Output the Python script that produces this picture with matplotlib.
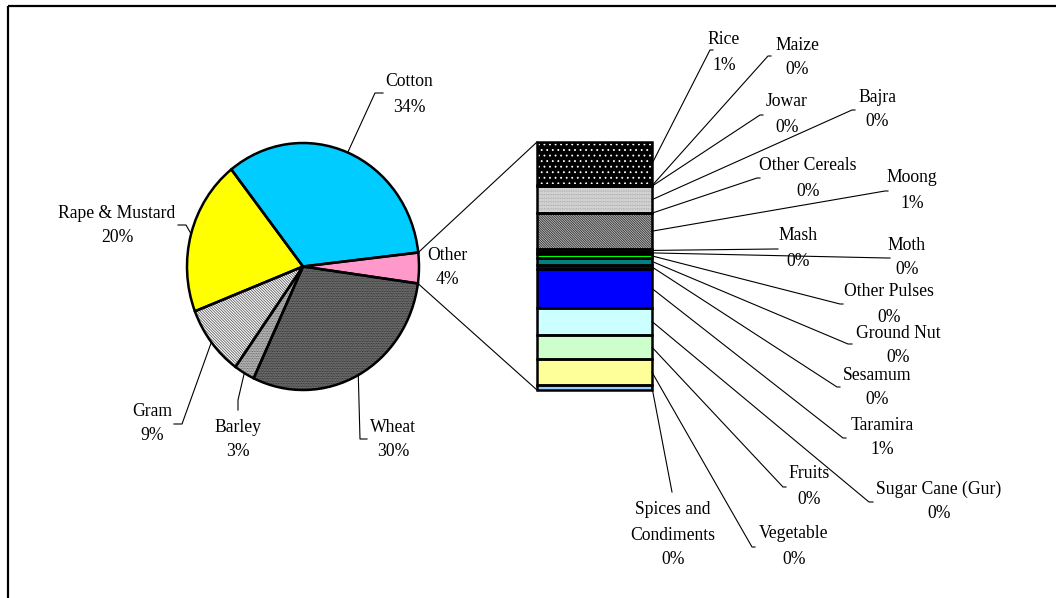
import numpy as np
import matplotlib.pyplot as plt

plt.rcParams['font.family'] = ['Liberation Serif', 'DejaVu Serif']
plt.rcParams['font.size'] = 12.7
plt.rcParams['hatch.linewidth'] = 0.6

# DATA: share of cropped area, %
crops = ['Other', 'Cotton', 'Rape & Mustard', 'Gram', 'Barley', 'Wheat']
shares = [4.0, 33.8, 20.3, 9.2, 2.9, 29.8]

# break-down of "Other"
other_crops = ['Rice', 'Maize', 'Jowar', 'Bajra', 'Other Cereals', 'Moong',
               'Mash', 'Moth', 'Other Pulses', 'Ground Nut', 'Sesamum',
               'Taramira', 'Sugar Cane (Gur)', 'Fruits', 'Vegetable',
               'Spices and\nCondiments']
other_shares = [0.700, 0.008, 0.008, 0.427, 0.008, 0.573, 0.048, 0.032,
                0.065, 0.113, 0.065, 0.629, 0.435, 0.395, 0.411, 0.081]

# STYLES
pie_colors = ['#ff99cc', '#00ccff', '#ffff00', 'white', '#c8c8c8', '#7a7a7a']
pie_hatch = [None, None, None, '\\' * 12, '.' * 10, '.' * 10]
pie_hatch_col = ['black', 'black', 'black', '#606060', '#505050', '#202020']

bar_colors = ['black', 'white', '#c0c0c0', 'white', '#800000', '#c0c0c0',
              '#333333', '#cc0000', '#00ff00', '#008080', '#000080',
              '#0000ff', '#ccffff', '#ccffcc', '#ffff99', '#99ccff']
bar_hatch = ['...', None, None, '.' * 12, None, '\\' * 14, '...', None,
             None, None, None, None, None, None, None, None]
bar_hatch_col = ['white', 'black', 'black', '#808080', 'black', '#303030',
                 '#999999', 'black', 'black', 'black', 'black', 'black',
                 'black', 'black', 'black', 'black']

# LAYOUT (pixels): text centre, elbow of leader, end of leader
pie_text = [(447, 255), (409, 82), (117, 213), (152, 411), (238, 427), (393, 427)]
pie_elbow = [None, (375, 93), (186, 225), (182, 424), (238, 400), (360, 439)]
pie_tail = [None, (383, 93), (178, 225), (174, 424), (238, 410), (367, 439)]

bar_text = [(724, 40), (797, 45), (787, 102), (877, 97), (808, 166),
            (912, 178), (798, 236), (907, 245), (889, 292), (898, 333),
            (877, 375), (882, 425), (939, 489), (809, 474), (794, 534),
            (673, 510)]
bar_elbow = [(710, 50), (768, 56), (760, 115), (852, 110), (757, 178),
             (885, 191), (775, 249), (887, 258), (840, 304), (848, 344),
             (837, 387), (843, 438), (869, 502), (783, 487), (752, 547),
             (672, 492)]
bar_tail = [(713, 50), (771, 56), (763, 115), (855, 110), (760, 178),
            (888, 191), (778, 249), (890, 258), (843, 304), (852, 344),
            (840, 387), (846, 438), (873, 502), (786, 487), (755, 547),
            (672, 492)]

W, H = 1056, 598
fig = plt.figure(figsize=(W / 100, H / 100), dpi=100)

# ПИРОГ
pax = fig.add_axes([187 / W, (H - 390) / H, 232 / W, 247 / H])
wedges, _ = pax.pie(shares, startangle=-7.9, counterclock=True,
                    colors=pie_colors, wedgeprops=dict(linewidth=0))
for w, h, hc in zip(wedges, pie_hatch, pie_hatch_col):
    w.set_edgecolor(hc)
    if h:
        w.set_hatch(h)
    w.set_clip_on(False)
outl, _ = pax.pie(shares, startangle=-7.9, counterclock=True,
                  wedgeprops=dict(fill=False, edgecolor='black', linewidth=1.8))
for w in outl:
    w.set_clip_on(False)
pax.set_xlim(-1, 1)
pax.set_ylim(-1, 1)
pax.set_aspect('auto')
pax.axis('off')

# СТОЛБЕЦ "Other"
bax = fig.add_axes([537 / W, (H - 390) / H, 115 / W, 248 / H])
bottoms = np.concatenate([[0], np.cumsum(other_shares)[:-1]])
total = sum(other_shares)
bars = bax.bar(0, other_shares, bottom=bottoms, width=1, color=bar_colors,
               linewidth=0)
for b, h, hc in zip(bars, bar_hatch, bar_hatch_col):
    b.set_edgecolor(hc)
    if h:
        b.set_hatch(h)
bax.bar(0, other_shares, bottom=bottoms, width=1, fill=False,
        edgecolor='black', linewidth=1.8, clip_on=False)
bax.set_xlim(-0.5, 0.5)
bax.set_ylim(total, 0)
bax.axis('off')

# НАДПИСИ И ВЫНОСКИ
ax = fig.add_axes([0, 0, 1, 1])
ax.set_xlim(0, W)
ax.set_ylim(H, 0)
ax.axis('off')


def to_px(src, x, y):
    return ax.transData.inverted().transform(src.transData.transform((x, y)))


def label(pos, name, pct):
    lines = name.split('\n') + [pct]
    for i, s in enumerate(lines):
        ax.text(pos[0], pos[1] + i * 25, s, ha='center', va='center')


def leader(p0, elbow, tail):
    ax.plot([p0[0], elbow[0], tail[0]], [p0[1], elbow[1], tail[1]],
            color='black', lw=0.8)


for w, name, v, tp, el, tl in zip(wedges, crops, shares, pie_text, pie_elbow, pie_tail):
    label(tp, name, f'{v:.0f}%')
    if el is not None:
        a = np.deg2rad((w.theta1 + w.theta2) / 2)
        leader(to_px(pax, np.cos(a), np.sin(a)), el, tl)

for name, v, b0, tp, el, tl in zip(other_crops, other_shares, bottoms,
                                   bar_text, bar_elbow, bar_tail):
    label(tp, name, f'{v:.0f}%')
    leader(to_px(bax, 0.5, b0 + v / 2), el, tl)

# connectors pie -> bar
ow = wedges[0]
for ang, by in [(ow.theta2, 0), (ow.theta1, total)]:
    a = np.deg2rad(ang)
    p0 = to_px(pax, np.cos(a), np.sin(a))
    p1 = to_px(bax, -0.5, by)
    ax.plot([p0[0], p1[0]], [p0[1], p1[1]], color='black', lw=0.8)

# frame
ax.plot([8, W], [5.5, 5.5], color='black', lw=1.6, solid_capstyle='butt')
ax.plot([8, 8], [5.5, H], color='black', lw=1.6, solid_capstyle='butt')

fig.savefig('out.png', dpi=100)
